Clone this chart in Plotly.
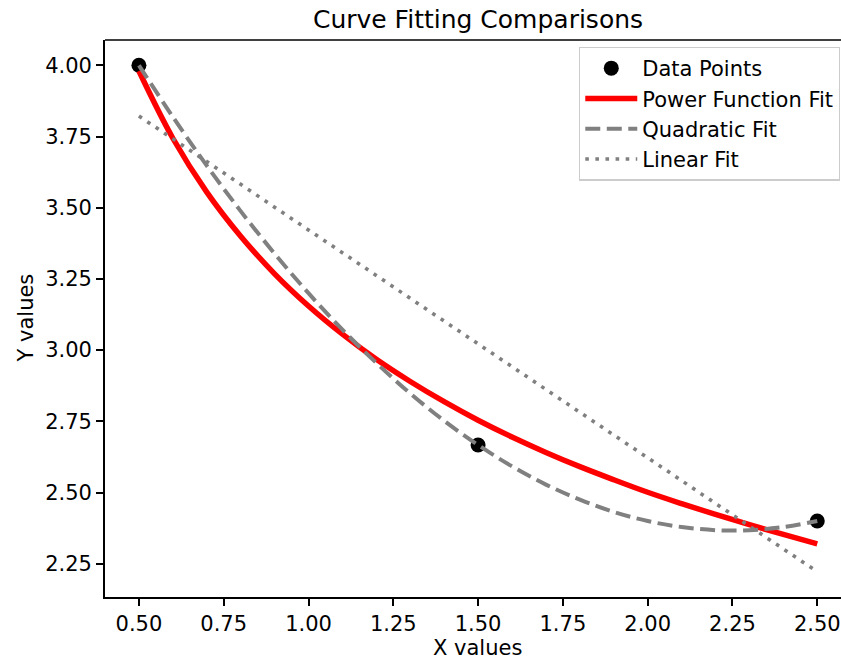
import plotly.graph_objects as go

# Data points
data_x = [0.5, 1.5, 2.5]
data_y = [4.0, 2.667, 2.4]

# Fitted curves, values
fit_x = [0.5, 0.6, 0.7, 0.8, 0.9, 1.0, 1.1, 1.2, 1.3, 1.4, 1.5,
         1.6, 1.7, 1.8, 1.9, 2.0, 2.1, 2.2, 2.3, 2.4, 2.5]
power_y = [3.98, 3.744, 3.555, 3.400, 3.268, 3.155, 3.056, 2.968, 2.890, 2.819, 2.754,
           2.695, 2.641, 2.591, 2.545, 2.501, 2.461, 2.423, 2.387, 2.353, 2.32]
quad_y = [4.0, 3.819, 3.648, 3.488, 3.339, 3.2, 3.072, 2.955, 2.848, 2.752, 2.667,
          2.592, 2.528, 2.475, 2.432, 2.4, 2.379, 2.368, 2.368, 2.379, 2.4]
lin_x = [0.5, 2.5]
lin_y = [3.822, 2.222]

x_ticks = [0.5, 0.75, 1.0, 1.25, 1.5, 1.75, 2.0, 2.25, 2.5]
x_ticklabels = ["0.50", "0.75", "1.00", "1.25", "1.50", "1.75", "2.00", "2.25", "2.50"]
y_ticks = [2.25, 2.5, 2.75, 3.0, 3.25, 3.5, 3.75, 4.0]
y_ticklabels = ["2.25", "2.50", "2.75", "3.00", "3.25", "3.50", "3.75", "4.00"]

FONT = "DejaVu Sans"
FS = 21

fig = go.Figure()
fig.add_trace(go.Scatter(x=data_x, y=data_y, mode="markers", name="Data Points",
                         marker=dict(color="black", size=15)))
fig.add_trace(go.Scatter(x=fit_x, y=power_y, mode="lines", name="Power Function Fit",
                         line=dict(color="red", width=5.5, shape="spline")))
fig.add_trace(go.Scatter(x=fit_x, y=quad_y, mode="lines", name="Quadratic Fit",
                         line=dict(color="gray", width=4, dash="15px,6.5px", shape="spline")))
fig.add_trace(go.Scatter(x=lin_x, y=lin_y, mode="lines", name="Linear Fit",
                         line=dict(color="gray", width=3.6, dash="3.6px,6.5px")))

axis_common = dict(showgrid=False, zeroline=False, showline=True, linecolor="black",
                   linewidth=1.7, ticks="outside", ticklen=7, tickwidth=1.7,
                   tickcolor="black", tickfont=dict(family=FONT, size=FS, color="black"))

fig.update_layout(
    width=841, height=660,
    margin=dict(l=105, r=0, t=40, b=63),
    paper_bgcolor="white", plot_bgcolor="white",
    font=dict(family=FONT, size=FS, color="black"),
    title=dict(text="Curve Fitting Comparisons", xref="container", x=478/841,
               xanchor="center", yref="container", y=1 - 19/660, yanchor="middle",
               font=dict(family=FONT, size=25, color="black")),
    xaxis=dict(range=[0.4, 2.57], tickvals=x_ticks, ticktext=x_ticklabels,
               mirror=False, **axis_common),
    yaxis=dict(range=[2.1333, 4.0889], tickvals=y_ticks, ticktext=y_ticklabels,
               **axis_common),
    showlegend=True,
    legend=dict(x=0.9986, xanchor="right", y=0.988, yanchor="top",
                bgcolor="white", bordercolor="#cccccc", borderwidth=1.3,
                font=dict(family=FONT, size=FS, color="black"),
                itemwidth=52, tracegroupgap=0),
    annotations=[
        dict(text="X values", xref="paper", yref="paper", x=(478-105)/736, y=0,
             yshift=-51, xanchor="center", yanchor="middle", showarrow=False,
             font=dict(family=FONT, size=FS, color="black")),
        dict(text="Y values", xref="paper", yref="paper", x=0, y=0.5,
             xshift=-80, xanchor="center", yanchor="middle", showarrow=False,
             textangle=-90, font=dict(family=FONT, size=FS, color="black")),
    ],
    shapes=[dict(type="line", xref="paper", yref="paper", x0=0, x1=1, y0=1, y1=1,
                 line=dict(color="black", width=1.7))],
)

fig.write_html("out.html", config={"displayModeBar": False},
               post_script="document.body.style.margin='0';")
